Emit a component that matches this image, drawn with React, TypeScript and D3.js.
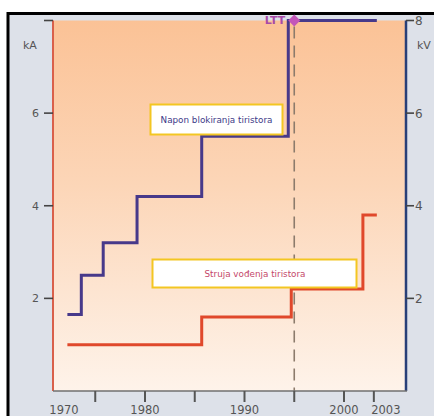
import React from 'react';
import * as d3 from 'd3';

// blocking voltage of thyristors (kV), step changes by year
const naponYears = [1972.2, 1973.6, 1975.8, 1979.2, 1985.7, 1994.4, 2003.3];
const naponValues = [1.65, 2.5, 3.2, 4.2, 5.5, 8, 8];

// on-state current of thyristors (kA)
const strujaYears = [1972.2, 1985.7, 1994.7, 2001.9, 2003.3];
const strujaValues = [1.0, 1.6, 2.2, 3.8, 3.8];

const xTickYears = [1975, 1980, 1985, 1990, 1995, 2000, 2003];
const xLabelYears = [1970, 1980, 1990, 2000, 2003];
const leftTicks = [2, 4, 6, 8];
const rightTicks = [2, 4, 6, 8];
const lttYear = 1995;
const lttValue = 8;

const W = 434;
const H = 416;
const plotLeft = 53;
const plotRight = 406;
const plotTop = 20.5;
const plotBottom = 391;

const labelFont = 'DejaVu Sans, Verdana, sans-serif';

export default function App() {
  const x = d3.scaleLinear().domain([1980, 2000]).range([145, 344]);
  const y = d3.scaleLinear().domain([0, 8]).range([plotBottom, plotTop]);

  const step = d3
    .line<[number, number]>()
    .x(d => x(d[0]))
    .y(d => y(d[1]))
    .curve(d3.curveStepAfter);

  const napon = naponYears.map((yr, i) => [yr, naponValues[i]] as [number, number]);
  const struja = strujaYears.map((yr, i) => [yr, strujaValues[i]] as [number, number]);

  const xLabelDx = (yr: number) => (yr === 1970 ? 18.5 : yr === 2003 ? 12 : 0);

  const lx = x(lttYear);
  const ly = y(lttValue);

  return (
    <svg
      width={W}
      height={H}
      style={{position: 'absolute', left: 0, top: 0, background: '#fff'}}
      viewBox={`0 0 ${W} ${H}`}
    >
      <defs>
        <linearGradient id="plotBg" x1="0" y1="0" x2="0" y2="1">
          <stop offset="0%" stopColor="#fbc296" />
          <stop offset="45%" stopColor="#fcd6b8" />
          <stop offset="100%" stopColor="#fef3ea" />
        </linearGradient>
      </defs>

      {/* frame and panel */}
      <rect x={8} y={13.5} width={500} height={500} fill="#dde1e9" stroke="#000" strokeWidth={3} />
      <rect
        x={plotLeft}
        y={plotTop}
        width={plotRight - plotLeft}
        height={plotBottom - plotTop}
        fill="url(#plotBg)"
      />

      {/* LTT dashed marker */}
      <line
        x1={lx}
        x2={lx}
        y1={plotTop + 6}
        y2={plotBottom}
        stroke="#8c7b6c"
        strokeWidth={1.6}
        strokeDasharray="12,7"
      />

      {/* step lines */}
      <path d={step(struja) || ''} fill="none" stroke="#e0482b" strokeWidth={3} strokeLinejoin="miter" />
      <path d={step(napon) || ''} fill="none" stroke="#47398a" strokeWidth={3} strokeLinejoin="miter" />

      {/* label boxes */}
      <g>
        <rect x={150.5} y={104.5} width={132} height={30} fill="#fff" stroke="#f3c622" strokeWidth={2} />
        <text
          x={216.5}
          y={123}
          textAnchor="middle"
          fontFamily={labelFont}
          fontSize={8.8}
          fill="#3d3a88"
        >
          Napon blokiranja tiristora
        </text>
      </g>
      <g>
        <rect x={152.5} y={259.5} width={204} height={28} fill="#fff" stroke="#f3c622" strokeWidth={2} />
        <text
          x={255}
          y={277}
          textAnchor="middle"
          fontFamily={labelFont}
          fontSize={8.8}
          fill="#c4476a"
        >
          Struja vođenja tiristora
        </text>
      </g>

      {/* axes lines */}
      <line x1={plotLeft} x2={plotLeft} y1={y(8)} y2={plotBottom} stroke="#d9604a" strokeWidth={2} />
      <line x1={plotRight} x2={plotRight} y1={y(8)} y2={plotBottom} stroke="#283f78" strokeWidth={2.5} />
      <line x1={plotLeft} x2={plotRight + 1} y1={plotBottom} y2={plotBottom} stroke="#6f6f6f" strokeWidth={1.6} />

      {/* left axis */}
      {leftTicks.map(t => (
        <g key={'l' + t}>
          <line x1={plotLeft - 9} x2={plotLeft} y1={y(t)} y2={y(t)} stroke="#444" strokeWidth={1.6} />
          {t < 8 && (
            <text x={39} y={y(t) + 4} textAnchor="end" fontFamily={labelFont} fontSize={11} fill="#555">
              {t}
            </text>
          )}
        </g>
      ))}
      <text x={23} y={49} fontFamily={labelFont} fontSize={11} fill="#555">
        kA
      </text>

      {/* right axis */}
      {rightTicks.map(t => (
        <g key={'r' + t}>
          <line x1={plotRight} x2={plotRight + 8} y1={y(t)} y2={y(t)} stroke="#444" strokeWidth={1.6} />
          <text x={plotRight + 9} y={y(t) + 4.5} fontFamily={labelFont} fontSize={12} fill="#555">
            {t}
          </text>
        </g>
      ))}
      <text x={417} y={49} fontFamily={labelFont} fontSize={11} fill="#555">
        kV
      </text>

      {/* bottom axis */}
      {xTickYears.map(yr => (
        <line
          key={'t' + yr}
          x1={x(yr)}
          x2={x(yr)}
          y1={plotBottom}
          y2={plotBottom + 11}
          stroke="#555"
          strokeWidth={2}
        />
      ))}
      {xLabelYears.map(yr => (
        <text
          key={'x' + yr}
          x={x(yr) + xLabelDx(yr)}
          y={414}
          textAnchor="middle"
          fontFamily={labelFont}
          fontSize={11.5}
          fill="#555"
        >
          {yr}
        </text>
      ))}

      {/* LTT marker */}
      <path
        d={`M${lx},${ly - 6} L${lx + 6},${ly} L${lx},${ly + 6} L${lx - 6},${ly} Z`}
        fill="#c356b9"
      />
      <text
        x={lx - 9}
        y={ly + 3}
        textAnchor="end"
        fontFamily={labelFont}
        fontSize={11}
        fontWeight="bold"
        fill="#a84aa8"
      >
        LTT
      </text>
    </svg>
  );
}
